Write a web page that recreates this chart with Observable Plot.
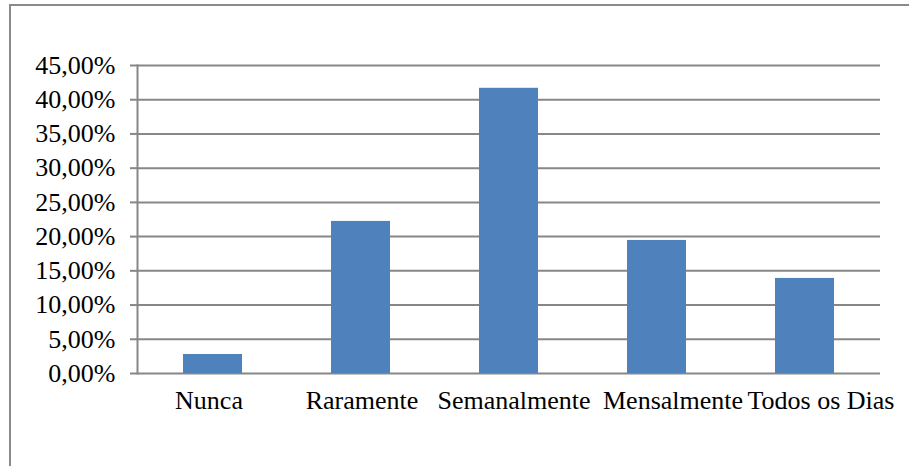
<!DOCTYPE html>
<html>
<head>
<meta charset="utf-8">
<script src="https://cdn.jsdelivr.net/npm/d3@7"></script>
<script src="https://cdn.jsdelivr.net/npm/@observablehq/plot@0.6"></script>
<style>
  html, body { margin: 0; padding: 0; background: #fff; }
  #wrap { position: relative; width: 909px; height: 466px; overflow: hidden; }
  #frame { position: absolute; left: 9px; top: 4px; width: 940px; height: 500px;
           border-top: 2px solid #8a8a8a; border-left: 2px solid #8a8a8a; box-sizing: border-box; }
  #chart { position: absolute; left: 0; top: 0; }
</style>
</head>
<body>
<div id="wrap">
  <div id="frame"></div>
  <div id="chart"></div>
</div>
<script>
// Frequência de respostas por categoria
const categories = ["Nunca", "Raramente", "Semanalmente", "Mensalmente", "Todos os Dias"];
const shares = [0.0278, 0.2222, 0.4167, 0.1944, 0.1389];
const yTicks = [0, 0.05, 0.10, 0.15, 0.20, 0.25, 0.30, 0.35, 0.40, 0.45];

const rows = categories.map((c, i) => ({category: c, share: shares[i]}));
const pct = v => (v * 100).toFixed(2).replace(".", ",") + "%";

const grid = "#878787";
const font = "'Liberation Serif', 'Times New Roman', serif";

// horizontal nudges keep the long category names from colliding
const labelShift = {"Nunca": -4, "Raramente": 1, "Semanalmente": 5, "Mensalmente": 16, "Todos os Dias": 16};

const chart = Plot.plot({
  width: 909,
  height: 466,
  marginLeft: 137,
  marginRight: 29,
  marginTop: 65,
  marginBottom: 93,
  style: {fontFamily: font, fontSize: "26px", color: "#000", background: "transparent"},
  x: {domain: categories, paddingInner: 0.6, paddingOuter: 0.3, label: null, axis: null},
  y: {domain: [0, 0.45], label: null},
  marks: [
    Plot.ruleY(yTicks, {stroke: grid, strokeWidth: 2, strokeOpacity: 1}),
    Plot.frame({anchor: "left", stroke: grid, strokeWidth: 2, strokeOpacity: 1}),
    Plot.axisY({ticks: yTicks, tickFormat: pct, tickSize: 7, tickPadding: 15,
                stroke: grid, strokeWidth: 2, strokeOpacity: 1, fill: "#000", label: null, fontSize: 26}),
    Plot.barY(rows, {x: "category", y: "share", fill: "#4f81bd"}),
    ...categories.map(c => Plot.text([c], {
      x: d => d, frameAnchor: "bottom", lineAnchor: "top", dy: 17, dx: labelShift[c],
      fill: "#000", fontSize: 26, fontFamily: font
    }))
  ]
});
document.getElementById("chart").append(chart);
</script>
</body>
</html>
